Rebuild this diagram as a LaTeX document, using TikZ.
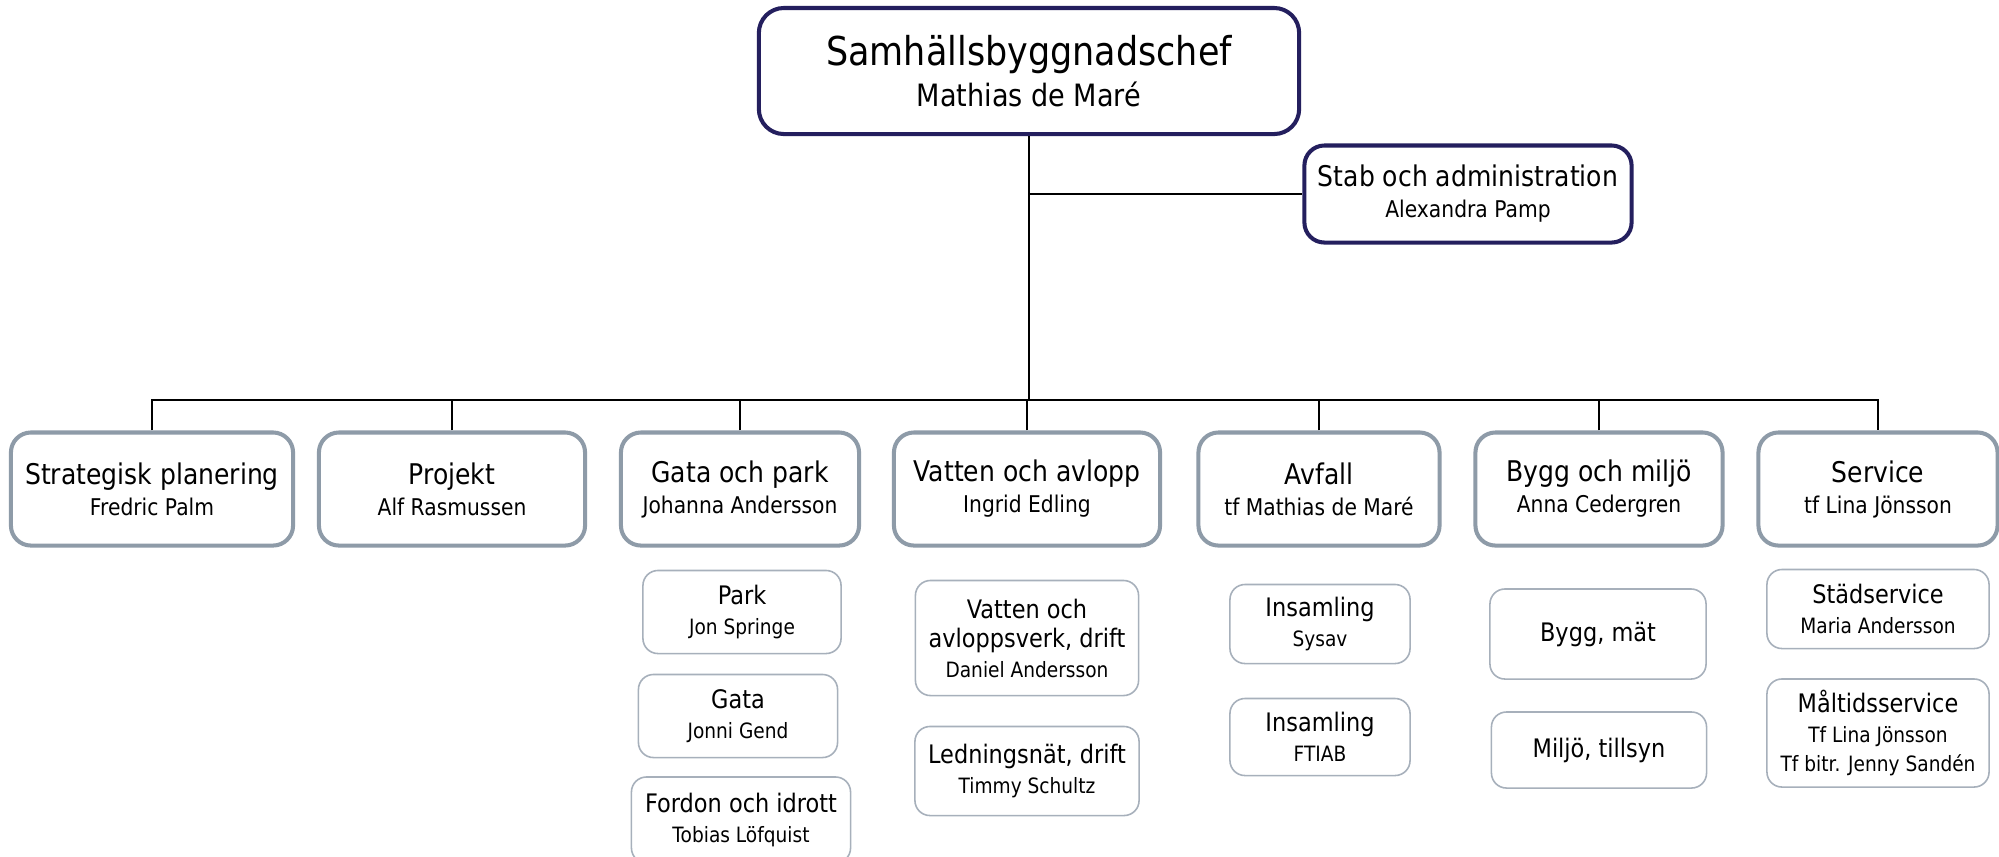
\documentclass[tikz,border=0pt]{standalone}
\usepackage{fontspec}
\setmainfont{DejaVu Sans}[FakeStretch=0.88]
\usepackage{tikz}
\usetikzlibrary{positioning}
\definecolor{OrgNavy}{HTML}{241F5E}
\definecolor{OrgGrey}{HTML}{8E9BA8}
\definecolor{OrgLight}{HTML}{A7B0BB}
\newcommand{\headA}{\fontsize{11.3}{11.7}\selectfont}
\newcommand{\headB}{\fontsize{8.75}{11.7}\selectfont}
\newcommand{\deptA}{\fontsize{8.1}{8.8}\selectfont}
\newcommand{\deptB}{\fontsize{6.55}{8.8}\selectfont}
\newcommand{\unitA}{\fontsize{7.25}{8.4}\selectfont}
\newcommand{\unitB}{\fontsize{6}{8.4}\selectfont}

\begin{document}
\begin{tikzpicture}[
  x=0.01cm, y=-0.01cm,
  chef/.style={draw=OrgNavy, line width=1.15pt, rounded corners=0.25cm,
    fill=white, align=center, inner sep=0pt, font=\headA},
  stabbox/.style={draw=OrgNavy, line width=1.15pt, rounded corners=0.2cm,
    fill=white, align=center, inner sep=0pt, font=\deptA},
  dept/.style={draw=OrgGrey, line width=1.15pt, rounded corners=0.2cm,
    fill=white, align=center, inner sep=0pt, font=\deptA,
    minimum height=1.13cm},
  unit/.style={draw=OrgLight, line width=0.45pt, rounded corners=0.15cm,
    fill=white, align=center, inner sep=0pt, font=\unitA},
  line/.style={draw=black, line width=0.7pt}
]
  \useasboundingbox (0,0) rectangle (1999,856);
  \fill[white] (0,0) rectangle (1999,856);

  % Top
  \node[chef, minimum width=5.4cm, minimum height=1.26cm] (chef) at (1029,71)
    {Samhällsbyggnadschef\\\headB Mathias de Maré};
  \node[stabbox, minimum width=3.27cm, minimum height=0.97cm] (stab) at (1468,194)
    {Stab och administration\\\deptB Alexandra Pamp};

  % Departments
  \node[dept, minimum width=2.82cm] (strat) at (152,489)
    {Strategisk planering\\\deptB Fredric Palm};
  \node[dept, minimum width=2.66cm] (proj) at (452,489)
    {Projekt\\\deptB Alf Rasmussen};
  \node[dept, minimum width=2.38cm] (gata) at (740,489)
    {Gata och park\\\deptB Johanna Andersson};
  \node[dept, minimum width=2.66cm] (vatten) at (1027,489)
    {Vatten och avlopp\\\deptB Ingrid Edling};
  \node[dept, minimum width=2.41cm] (avfall) at (1319,489)
    {Avfall\\\deptB tf Mathias de Maré};
  \node[dept, minimum width=2.47cm] (bygg) at (1599,489)
    {Bygg och miljö\\\deptB Anna Cedergren};
  \node[dept, minimum width=2.39cm] (service) at (1878,489)
    {Service\\\deptB tf Lina Jönsson};

  % Units
  \node[unit, minimum width=1.98cm, minimum height=0.83cm] (park) at (742,612)
    {Park\\\unitB Jon Springe};
  \node[unit, minimum width=1.99cm, minimum height=0.83cm] (gatau) at (738,716)
    {Gata\\\unitB Jonni Gend};
  \node[unit, minimum width=2.19cm, minimum height=0.86cm] (fordon) at (741,820)
    {Fordon och idrott\\\unitB Tobias Löfquist};
  \node[unit, minimum width=2.23cm, minimum height=1.15cm] (vaverk) at (1027,638)
    {Vatten och\\avloppsverk, drift\\\unitB Daniel Andersson};
  \node[unit, minimum width=2.24cm, minimum height=0.89cm] (ledning) at (1027,771)
    {Ledningsnät, drift\\\unitB Timmy Schultz};
  \node[unit, minimum width=1.80cm, minimum height=0.79cm] (sysav) at (1320,624)
    {Insamling\\\unitB Sysav};
  \node[unit, minimum width=1.80cm, minimum height=0.77cm] (ftiab) at (1320,737)
    {Insamling\\\unitB FTIAB};
  \node[unit, minimum width=2.16cm, minimum height=0.90cm] (byggmat) at (1598,634)
    {Bygg, mät};
  \node[unit, minimum width=2.15cm, minimum height=0.76cm] (miljo) at (1599,750)
    {Miljö, tillsyn};
  \node[unit, minimum width=2.22cm, minimum height=0.79cm] (stad) at (1878,609)
    {Städservice\\\unitB Maria Andersson};
  \node[unit, minimum width=2.22cm, minimum height=1.08cm] (maltid) at (1878,733)
    {Måltidsservice\\\unitB Tf Lina Jönsson\\\unitB Tf bitr. Jenny Sandén};

  % Lines
  \coordinate (bus) at (1029,400);
  \draw[line] (chef.south) -- (bus);
  \draw[line] (chef.south |- stab.west) -- (stab.west);
  \draw[line] (strat.north) |- (bus) -| (service.north);
  \foreach \d in {proj,gata,vatten,avfall,bygg}
    \draw[line] (\d.north) -- (\d.north |- bus);
\end{tikzpicture}
\end{document}
